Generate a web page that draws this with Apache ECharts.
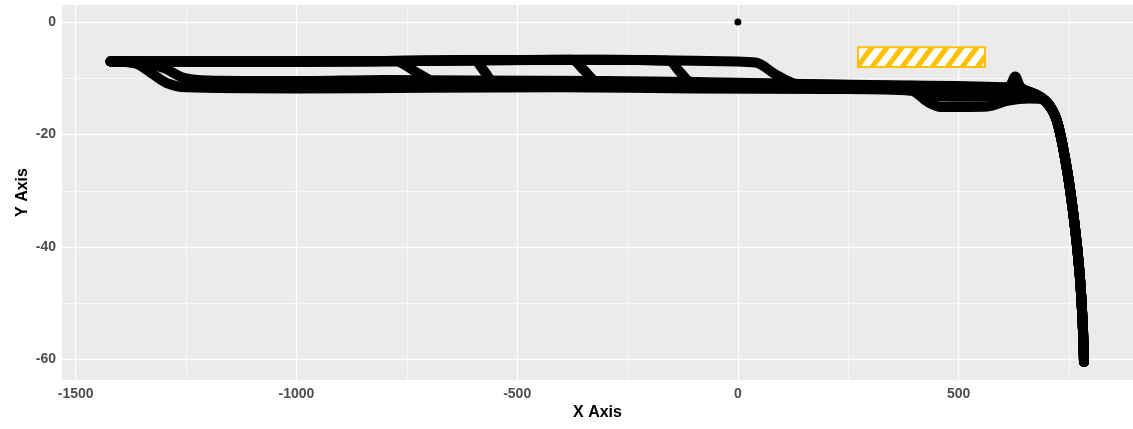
<!DOCTYPE html>
<html>
<head>
<meta charset="utf-8">
<title>Track plot</title>
<script src="https://cdn.jsdelivr.net/npm/echarts@6.0.0/dist/echarts.min.js"></script>
<style>
  html, body { margin: 0; padding: 0; background: #fff; }
  #chart { width: 1133px; height: 429px; }
</style>
</head>
<body>
<div id="chart"></div>
<script>
// axis ranges and tick positions
const xRange = [-1531, 895];
const yRange = [-63.63, 3.03];
const xTicks = [-1500, -1000, -500, 0, 500];
const xMinor = [-1250, -750, -250, 250, 750];
const yTicks = [0, -20, -40, -60];
const yMinor = [-10, -30, -50];

// hatched zone (x from/to, y from/to)
const zoneX = [272, 560];
const zoneY = [-4.5, -8.0];

// single point at the origin
const originPoint = [[0, 0]];

// every track ends on the same bend down to -60
const endCurve = [[695, -13.9], [722, -17.4], [745, -26.0], [762, -35.5], [774, -44.6], [781, -53.5], [784, -60.4]];

// track staying in the top lane until x ~ 40
const trackA = [[-1421, -7.0], [-1000, -7.0], [-600, -6.8], [-350, -6.7], [-100, -6.9], [40, -7.2], [85, -9.3], [130, -11.0],
  [200, -11.4], [400, -11.6], [600, -12.0], [660, -12.6]];
// early lane change, lower path, drops to -15 near x 450
const trackB = [[-1421, -7.0], [-1363, -7.4], [-1330, -9.0], [-1295, -10.8], [-1250, -11.6], [-1000, -11.8], [-700, -11.7],
  [-400, -11.6], [-100, -11.8], [200, -11.9], [392, -12.2], [430, -14.2], [460, -15.1], [566, -15.0], [610, -14.0], [660, -13.6]];
// early lane change, upper path
const trackC = [[-1421, -7.0], [-1350, -7.1], [-1300, -8.2], [-1255, -9.9], [-1200, -10.4], [-1000, -10.5], [-800, -10.3],
  [-600, -10.4], [-300, -10.5], [0, -10.8], [300, -11.2], [600, -11.6], [660, -12.4]];
// lane change near x -730
const trackD = [[-1421, -7.0], [-1000, -7.0], [-774, -7.0], [-729, -8.9], [-684, -10.7], [-600, -11.0], [-300, -11.1],
  [0, -11.3], [300, -11.6], [400, -12.0], [440, -13.2], [560, -13.3], [640, -13.1], [670, -13.4]];
// lane change near x -575, small spike near x 628
const trackE = [[-1421, -7.0], [-1000, -7.0], [-700, -6.9], [-598, -6.8], [-575, -8.7], [-553, -10.6], [-450, -10.9],
  [-200, -11.0], [100, -11.2], [400, -11.4], [580, -11.7], [615, -11.4], [628, -9.7], [641, -11.6], [670, -12.8]];
// lane change near x -350
const trackF = [[-1421, -7.0], [-1000, -7.0], [-600, -6.8], [-377, -6.7], [-348, -8.6], [-320, -10.5], [-200, -10.8],
  [0, -11.0], [200, -11.3], [500, -11.5], [650, -12.2]];
// lane change near x -130
const trackG = [[-1421, -7.0], [-1000, -7.0], [-600, -6.8], [-300, -6.7], [-157, -6.9], [-132, -8.8], [-107, -10.6],
  [0, -10.9], [250, -11.2], [500, -11.5], [650, -12.2]];

const tracks = [trackA, trackB, trackC, trackD, trackE, trackF, trackG];

// diagonal stripe fill for the zone
function makeHatch() {
  const w = 15, h = 20;
  const c = document.createElement("canvas");
  c.width = w;
  c.height = h;
  const ctx = c.getContext("2d");
  ctx.fillStyle = "#FFC000";
  ctx.fillRect(0, 0, w, h);
  ctx.strokeStyle = "#ffffff";
  ctx.lineWidth = 7;
  [-1, 0, 1].forEach(function (k) {
    ctx.beginPath();
    ctx.moveTo(-w, (2 + k) * h);
    ctx.lineTo(2 * w, (k - 1) * h);
    ctx.stroke();
  });
  return c;
}

const labelFont = { color: "#4D4D4D", fontSize: 14, fontWeight: "bold", fontFamily: "Liberation Sans" };
const nameFont = { color: "#000", fontSize: 16, fontWeight: "bold", fontFamily: "Liberation Sans" };

const gridLines = []
  .concat(xTicks.map((v) => ({ xAxis: v, lineStyle: { width: 1.3 } })))
  .concat(xMinor.map((v) => ({ xAxis: v, lineStyle: { width: 0.6 } })))
  .concat(yTicks.map((v) => ({ yAxis: v, lineStyle: { width: 1.3 } })))
  .concat(yMinor.map((v) => ({ yAxis: v, lineStyle: { width: 0.6 } })));

const chart = echarts.init(document.getElementById("chart"), null, { renderer: "canvas" });

const trackSeries = tracks.map((t) => ({
  type: "line",
  data: t.concat(endCurve),
  showSymbol: false,
  smooth: 0.3,
  silent: true,
  z: 3,
  lineStyle: { color: "#000", width: 10, cap: "round", join: "round" },
}));

const option = {
  animation: false,
  backgroundColor: "#fff",
  grid: {
    left: 62,
    top: 5,
    width: 1073,
    height: 375,
    show: true,
    backgroundColor: "#EBEBEB",
    borderWidth: 0,
  },
  xAxis: {
    type: "value",
    min: xRange[0],
    max: xRange[1],
    name: "X Axis",
    nameLocation: "middle",
    nameGap: 25,
    nameMoveOverlap: false,
    nameTextStyle: nameFont,
    axisLine: { show: false },
    axisTick: { show: true, length: 4, customValues: xTicks, lineStyle: { color: "#333" } },
    axisLabel: Object.assign({ margin: 7, customValues: xTicks, formatter: (v) => String(v) }, labelFont),
    splitLine: { show: false },
  },
  yAxis: {
    type: "value",
    min: yRange[0],
    max: yRange[1],
    name: "Y Axis",
    nameLocation: "middle",
    nameGap: 31,
    nameMoveOverlap: false,
    nameTextStyle: nameFont,
    axisLine: { show: false },
    axisTick: { show: true, length: 4, customValues: yTicks, lineStyle: { color: "#333" } },
    axisLabel: Object.assign({ margin: 6, customValues: yTicks, formatter: (v) => String(v) }, labelFont),
    splitLine: { show: false },
  },
  series: trackSeries.concat([
    {
      type: "scatter",
      data: originPoint,
      symbolSize: 7,
      silent: true,
      z: 4,
      itemStyle: { color: "#000", opacity: 1 },
      markLine: {
        silent: true,
        z: 1,
        symbol: "none",
        label: { show: false },
        lineStyle: { color: "#fff", type: "solid" },
        data: gridLines,
      },
      markArea: {
        silent: true,
        z: 2,
        itemStyle: {
          color: { image: makeHatch(), repeat: "repeat" },
          borderColor: "#FFC000",
          borderWidth: 2,
        },
        data: [[{ coord: [zoneX[0], zoneY[0]] }, { coord: [zoneX[1], zoneY[1]] }]],
      },
    },
  ]),
};

chart.setOption(option);
</script>
</body>
</html>
